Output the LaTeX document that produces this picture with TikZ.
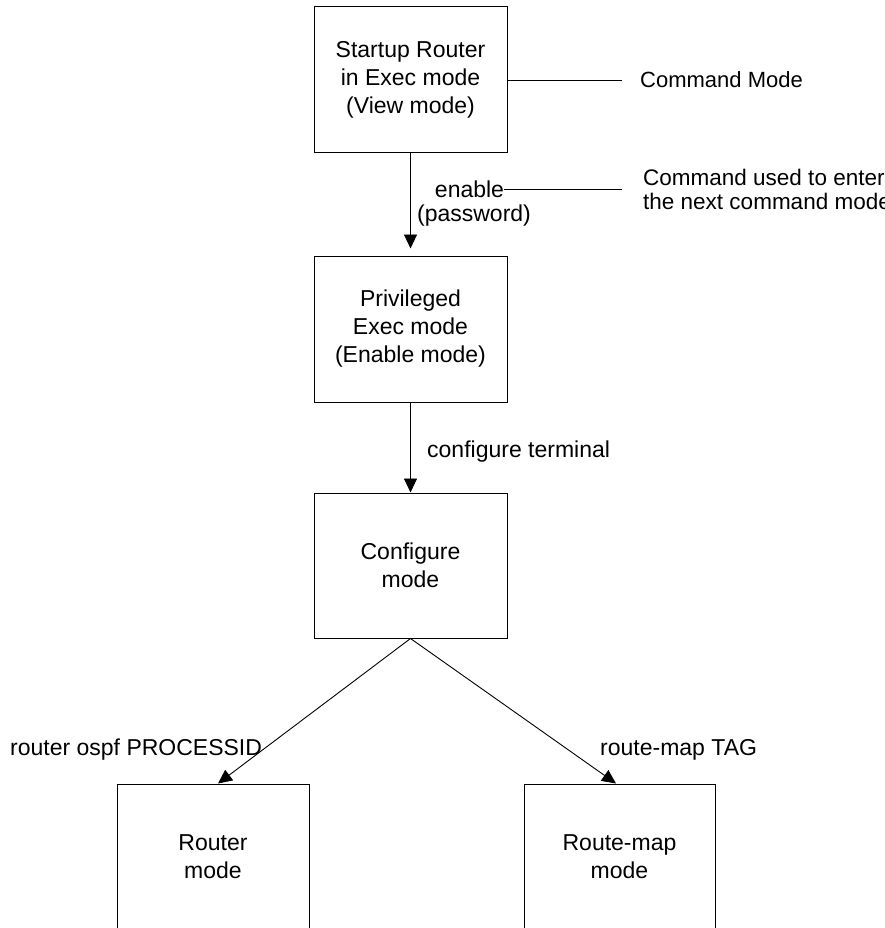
\documentclass[tikz,border=0pt]{standalone}
\usepackage{fontspec}
\setmainfont{Liberation Sans}
\usetikzlibrary{arrows.meta}
\begin{document}
\begin{tikzpicture}[x=1pt,y=-1pt,
  txt/.style={font=\fontsize{23}{28}\selectfont},
  modebox/.style={txt, draw, line width=1pt, minimum width=193pt,
    minimum height=146pt, align=center, inner sep=0pt},
  lbl/.style={txt, inner sep=0pt},
  legend/.style={font=\fontsize{22}{24}\selectfont, inner sep=0pt, align=left},
  flow/.style={line width=0.9pt, -{Triangle[length=14pt,width=13pt]}},
  thin line/.style={line width=0.9pt}]
\useasboundingbox (0,0) rectangle (885,928);

% command mode boxes
\node[modebox] (startup) at (410.5,80)  {Startup Router\\in Exec mode\\(View mode)};
\node[modebox] (priv)    at (410.5,329) {Privileged\\Exec mode\\(Enable mode)};
\node[modebox, minimum height=145pt] (conf) at (410.5,565.5) {Configure\\mode};
\node[modebox, minimum width=192pt] (router) at (213,857)   {Router\\mode};
\node[modebox, minimum width=191pt] (rmap)   at (619.5,857) {Route-map\\mode};

% commands between modes
\node[lbl] (en) at (469.5,189) {enable};
\node[lbl] (pw) at (474,216)   {(password)};
\node[lbl, anchor=west] (ct) at (427,452) {configure terminal};
\node[lbl, anchor=west] (ro) at (10,750)  {router ospf PROCESSID};
\node[lbl, anchor=west] (rm) at (600,750) {route-map TAG};

% legend notes
\node[legend, anchor=west] (cm) at (640,80) {Command Mode};
\node[legend, font=\fontsize{22.5}{24}\selectfont, anchor=west] (cu) at (643,189)
  {Command used to enter\\the next command mode};

% transitions
\draw[flow, shorten >=7pt] (startup) -- (priv);
\draw[flow] (priv) -- (conf);
\draw[flow] (conf.south) -- ([xshift=5pt]router.north);
\draw[flow] (conf.south) -- ([xshift=-3.5pt]rmap.north);

% legend leaders
\draw[thin line] (startup.east) -- ([xshift=-18pt]cm.west);
\draw[thin line] (en.east) -- ([xshift=-21pt]cu.west);
\end{tikzpicture}
\end{document}
